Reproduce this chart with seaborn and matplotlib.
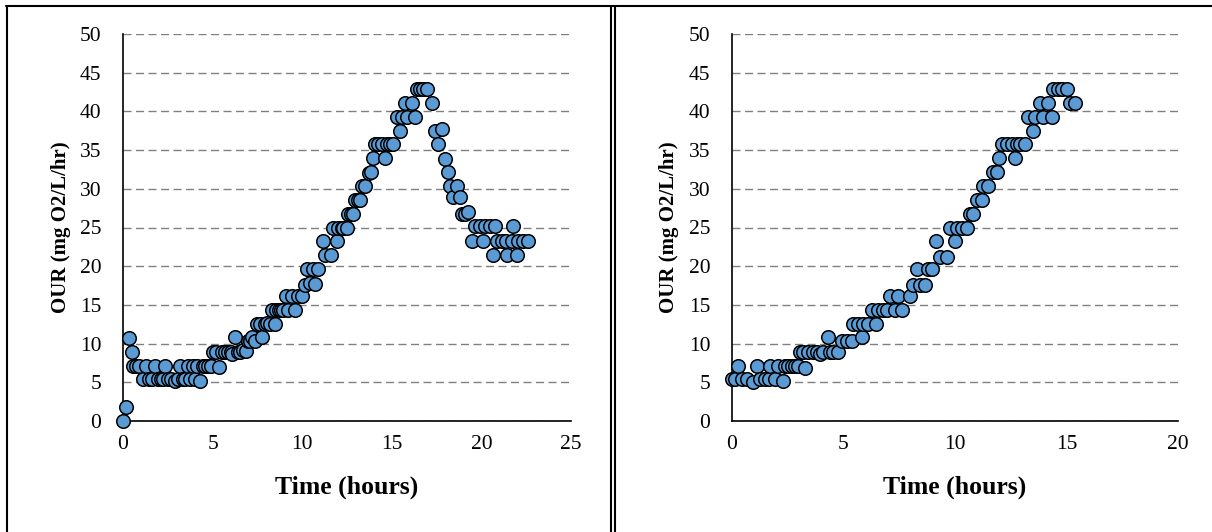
import matplotlib
matplotlib.use("Agg")
import matplotlib.pyplot as plt
from matplotlib.lines import Line2D
import pandas as pd
import seaborn as sns

# Run 1: oxygen uptake rate over the full batch
run1_time = [
    0, 0.15, 0.34, 0.5, 0.58, 0.75, 0.9, 1.1, 1.3, 1.45,
    1.62, 1.78, 1.95, 2.1, 2.25, 2.35, 2.52, 2.7, 2.9, 3.05,
    3.18, 3.35, 3.48, 3.62, 3.75, 3.9, 4.02, 4.15, 4.3, 4.45,
    4.6, 4.75, 4.9, 5.05, 5.2, 5.33, 5.5, 5.68, 5.85, 6.0,
    6.1, 6.25, 6.4, 6.55, 6.7, 6.85, 6.95, 7.1, 7.2, 7.38,
    7.5, 7.62, 7.76, 7.9, 8.04, 8.2, 8.3, 8.48, 8.55, 8.7,
    8.82, 8.95, 9.1, 9.22, 9.41, 9.6, 9.75, 9.97, 10.16, 10.25,
    10.44, 10.58, 10.71, 10.9, 11.18, 11.3, 11.6, 11.74, 11.96, 12.02,
    12.2, 12.29, 12.48, 12.57, 12.7, 12.85, 12.95, 13.13, 13.2, 13.32,
    13.5, 13.7, 13.82, 13.97, 14.06, 14.25, 14.44, 14.62, 14.72, 14.9,
    15.08, 15.27, 15.46, 15.55, 15.74, 15.83, 16.11, 16.3, 16.39, 16.57,
    16.76, 16.95, 17.23, 17.41, 17.6, 17.78, 17.97, 18.15, 18.25, 18.43,
    18.62, 18.8, 18.9, 19.08, 19.27, 19.46, 19.64, 19.92, 20.1, 20.2,
    20.48, 20.63, 20.76, 20.85, 21.13, 21.35, 21.45, 21.69, 21.78, 21.97,
    22.06, 22.34, 22.62,
]
run1_our = [
    0, 1.8, 10.7, 8.9, 7.1, 7.1, 7.1, 5.4, 7.1, 5.4,
    5.4, 7.1, 5.4, 5.4, 5.4, 7.1, 5.4, 5.4, 5.2, 5.4,
    7.1, 5.4, 5.4, 7.1, 5.4, 7.1, 5.4, 7.1, 5.2, 7.1,
    7.1, 7.1, 7.1, 8.9, 8.9, 7.0, 8.9, 8.9, 8.9, 8.9,
    8.7, 10.8, 8.9, 8.9, 9.2, 9.0, 10.4, 10.4, 10.8, 10.4,
    12.5, 12.5, 10.8, 12.5, 12.6, 12.5, 14.3, 12.5, 14.4, 14.3,
    14.4, 14.3, 16.2, 14.3, 16.2, 14.3, 16.2, 16.1, 17.6, 19.7,
    17.8, 19.7, 17.7, 19.7, 23.3, 21.4, 21.4, 25.0, 23.2, 25.0,
    25.0, 25.0, 25.0, 26.8, 26.8, 26.8, 28.6, 28.6, 28.6, 30.4,
    30.4, 32.1, 32.2, 34.0, 35.8, 35.8, 35.8, 34.0, 35.8, 35.8,
    35.8, 39.3, 37.5, 39.3, 41.1, 39.3, 41.1, 39.3, 42.9, 42.9,
    42.9, 42.9, 41.1, 37.5, 35.8, 37.7, 33.9, 32.2, 30.4, 28.9,
    30.4, 28.9, 26.8, 26.8, 27.0, 23.2, 25.2, 25.2, 23.2, 25.2,
    25.2, 21.4, 25.2, 23.2, 23.2, 23.2, 21.4, 23.2, 25.2, 21.4,
    23.2, 23.2, 23.2,
]

# Run 2: oxygen uptake rate during the growth phase
run2_time = [
    0, 0.15, 0.3, 0.45, 0.67, 0.97, 1.12, 1.27, 1.49, 1.65,
    1.72, 1.94, 2.09, 2.31, 2.39, 2.54, 2.69, 2.84, 2.99, 3.06,
    3.2, 3.28, 3.43, 3.66, 3.81, 3.96, 4.1, 4.33, 4.4, 4.55,
    4.78, 4.93, 5.15, 5.37, 5.45, 5.67, 5.82, 5.9, 6.12, 6.27,
    6.45, 6.55, 6.79, 6.95, 7.09, 7.31, 7.46, 7.61, 7.98, 8.13,
    8.28, 8.43, 8.66, 8.8, 8.96, 9.15, 9.33, 9.63, 9.78, 10.0,
    10.08, 10.3, 10.52, 10.67, 10.82, 10.97, 11.2, 11.27, 11.49, 11.7,
    11.9, 11.95, 12.09, 12.31, 12.54, 12.69, 12.76, 12.91, 13.13, 13.28,
    13.5, 13.58, 13.81, 13.95, 14.18, 14.33, 14.4, 14.63, 14.78, 15.0,
    15.15, 15.37,
]
run2_our = [
    5.4, 5.4, 7.1, 5.4, 5.4, 5.1, 7.1, 5.4, 5.4, 5.4,
    7.1, 5.4, 7.1, 5.2, 7.1, 7.1, 7.1, 7.1, 7.1, 8.9,
    8.9, 6.9, 8.9, 8.9, 8.9, 8.6, 8.9, 10.8, 8.9, 8.9,
    8.9, 10.4, 10.4, 10.4, 12.5, 12.5, 10.8, 12.5, 12.5, 14.4,
    12.5, 14.4, 14.4, 14.3, 16.1, 14.4, 16.1, 14.4, 16.1, 17.6,
    19.6, 17.6, 17.6, 19.6, 19.6, 23.3, 21.2, 21.2, 25.0, 23.3,
    25.0, 25.0, 25.0, 26.8, 26.8, 28.6, 28.6, 30.4, 30.4, 32.2,
    32.2, 34.0, 35.8, 35.8, 35.8, 34.0, 35.8, 35.8, 35.8, 39.3,
    37.5, 39.3, 41.1, 39.3, 41.1, 39.3, 42.9, 42.9, 42.9, 42.9,
    41.1, 41.1,
]

y_ticks = [0, 5, 10, 15, 20, 25, 30, 35, 40, 45, 50]
run1_x_ticks = [0, 5, 10, 15, 20, 25]
run2_x_ticks = [0, 5, 10, 15, 20]
x_label = "Time (hours)"
y_label = "OUR (mg O2/L/hr)"

sns.set_theme(style="white")
plt.rcParams["font.family"] = ["Liberation Serif", "DejaVu Serif"]

W, H = 1212, 532
fig = plt.figure(figsize=(W / 100, H / 100), dpi=100)
fig.patch.set_facecolor("white")

ax1 = fig.add_axes([123 / W, 111 / H, 448 / W, 387 / H])
ax2 = fig.add_axes([731.7 / W, 111 / H, 446.6 / W, 387 / H])

panels = [
    (ax1, run1_time, run1_our, run1_x_ticks),
    (ax2, run2_time, run2_our, run2_x_ticks),
]

for ax, t, our, xt in panels:
    df = pd.DataFrame({"time": t, "our": our})
    sns.scatterplot(
        data=df, x="time", y="our", ax=ax, s=95,
        color="#5B9BD5", edgecolor="black", linewidth=1.1,
        clip_on=False, zorder=3, legend=False,
    )
    ax.set_xlim(xt[0], xt[-1])
    ax.set_ylim(y_ticks[0], y_ticks[-1])
    ax.set_xticks(xt)
    ax.set_yticks(y_ticks)
    ax.set_facecolor("white")
    ax.yaxis.grid(True, color="#808080", linewidth=1.0,
                  linestyle=(0, (5.8, 3.2)), zorder=1)
    ax.xaxis.grid(False)
    for side in ("top", "right"):
        ax.spines[side].set_visible(False)
    for side in ("left", "bottom"):
        ax.spines[side].set_color("black")
        ax.spines[side].set_linewidth(1.2)
        ax.spines[side].set_zorder(2)
    ax.tick_params(axis="y", direction="inout", length=7, width=1.1,
                   color="black", labelsize=15.5, labelcolor="black", pad=12)
    ax.tick_params(axis="x", direction="out", length=5, width=1.1,
                   color="black", labelsize=15.5, labelcolor="black", pad=5)
    ax.set_xlabel(x_label, fontsize=18.5, fontweight="bold", color="black")
    ax.set_ylabel(y_label, fontsize=15, fontweight="bold", color="black")
    ax.xaxis.set_label_coords(0.5, -0.142)
    ax.yaxis.set_label_coords(-0.117, 0.5)

# Panel frames drawn on the figure
frame = dict(color="black", linewidth=1.5, transform=fig.transFigure)
fig.add_artist(Line2D([6 / W, 1.0], [1 - 5.5 / H, 1 - 5.5 / H], **frame))
fig.add_artist(Line2D([7 / W, 7 / W], [0, 1 - 5.5 / H], **frame))
fig.add_artist(Line2D([611 / W, 611 / W], [0, 1 - 5.5 / H], **frame))
fig.add_artist(Line2D([615 / W, 615 / W], [0, 1 - 5.5 / H], **frame))

fig.savefig("out.png", dpi=100, facecolor="white")
